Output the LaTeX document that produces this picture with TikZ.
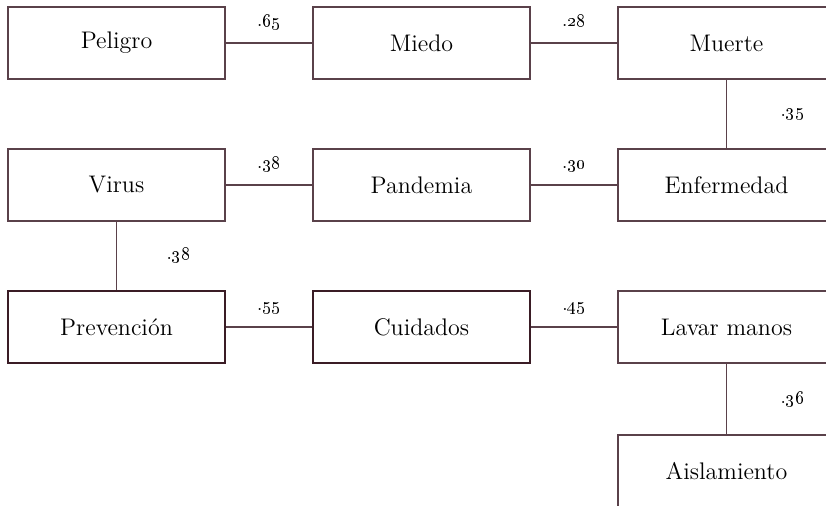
\documentclass[tikz,border=0pt]{standalone}
\usepackage{amsmath,amssymb}
\usepackage{tikz}
\definecolor{edgecol}{HTML}{5A414A}
\definecolor{strongcol}{HTML}{3A1C25}

\begin{document}
\begin{tikzpicture}[x=0.5pt,y=-0.5pt,
	box_node/.style={rectangle,draw=edgecol,line width=0.7pt,minimum width=108.5pt,minimum height=36pt,font=\fontsize{12}{14}\selectfont},
	strong_node/.style={box_node,draw=strongcol,line width=1.3pt},
	link/.style={draw=edgecol,line width=0.75pt},
	weight_h/.style={midway,anchor=base,yshift=8.5pt,font=\fontsize{9.5}{11}\selectfont},
	weight_v/.style={midway,xshift=33pt,font=\fontsize{9.5}{11}\selectfont}]
	\clip (0,0) rectangle (826,505);
	\node[box_node] (peligro) at (116.5,43) {Peligro};
	\node[box_node] (miedo) at (421.5,43) {Miedo};
	\node[box_node] (muerte) at (726.5,43) {Muerte};
	\node[box_node] (virus) at (116.5,185) {Virus};
	\node[box_node] (pandemia) at (421.5,185) {Pandemia};
	\node[box_node] (enfermedad) at (726.5,185) {Enfermedad};
	\node[strong_node] (prevencion) at (116.5,327) {Prevención};
	\node[strong_node] (cuidados) at (421.5,327) {Cuidados};
	\node[box_node] (lavar) at (726.5,327) {Lavar manos};
	\node[box_node] (aislamiento) at (726.5,471) {Aislamiento};
	\draw[link] (peligro) -- node[weight_h] {.\oldstylenums{65}} (miedo);
	\draw[link] (miedo) -- node[weight_h] {.\oldstylenums{28}} (muerte);
	\draw[link] (muerte) -- node[weight_v] {.\oldstylenums{35}} (enfermedad);
	\draw[link] (virus) -- node[weight_h] {.\oldstylenums{38}} (pandemia);
	\draw[link] (pandemia) -- node[weight_h] {.\oldstylenums{30}} (enfermedad);
	\draw[link] (virus) -- node[weight_v,xshift=-2pt] {.\oldstylenums{38}} (prevencion);
	\draw[link] (prevencion) -- node[weight_h] {.\oldstylenums{55}} (cuidados);
	\draw[link] (cuidados) -- node[weight_h] {.\oldstylenums{45}} (lavar);
	\draw[link] (lavar) -- node[weight_v] {.\oldstylenums{36}} (aislamiento);
\end{tikzpicture}
\end{document}
